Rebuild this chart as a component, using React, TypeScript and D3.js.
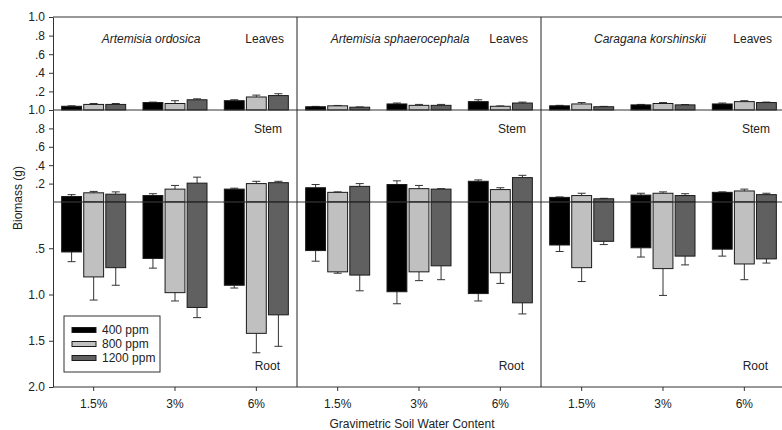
import React, { useEffect, useRef } from 'react';
import * as d3 from 'd3';

// categories
const species = ['Artemisia ordosica', 'Artemisia sphaerocephala', 'Caragana korshinskii'];
const waterLevels = ['1.5%', '3%', '6%'];
const treatments = ['400 ppm', '800 ppm', '1200 ppm'];
const treatmentColors = ['#000000', '#c0c0c0', '#606060'];

// means and SE, indexed [species][water level][treatment]
const leavesMean = [
  [[0.04, 0.06, 0.06], [0.08, 0.07, 0.11], [0.10, 0.14, 0.155]],
  [[0.035, 0.045, 0.03], [0.065, 0.05, 0.05], [0.09, 0.04, 0.075]],
  [[0.045, 0.065, 0.035], [0.055, 0.07, 0.055], [0.065, 0.09, 0.08]],
];
const leavesErr = [
  [[0.005, 0.01, 0.01], [0.005, 0.03, 0.01], [0.01, 0.02, 0.02]],
  [[0.004, 0.004, 0.003], [0.01, 0.01, 0.01], [0.02, 0.004, 0.01]],
  [[0.005, 0.015, 0.004], [0.005, 0.01, 0.004], [0.01, 0.01, 0.005]],
];
const stemMean = [
  [[0.06, 0.10, 0.085], [0.07, 0.14, 0.205], [0.14, 0.20, 0.21]],
  [[0.155, 0.105, 0.17], [0.19, 0.145, 0.14], [0.225, 0.135, 0.265]],
  [[0.05, 0.07, 0.035], [0.075, 0.095, 0.07], [0.105, 0.12, 0.08]],
];
const stemErr = [
  [[0.02, 0.015, 0.025], [0.02, 0.04, 0.065], [0.01, 0.025, 0.015]],
  [[0.035, 0.005, 0.03], [0.04, 0.035, 0.005], [0.015, 0.02, 0.025]],
  [[0.005, 0.025, 0.005], [0.02, 0.015, 0.02], [0.005, 0.02, 0.015]],
];
const rootMean = [
  [[0.54, 0.81, 0.71], [0.61, 0.98, 1.14], [0.90, 1.42, 1.22]],
  [[0.525, 0.755, 0.79], [0.97, 0.755, 0.69], [0.99, 0.765, 1.09]],
  [[0.465, 0.71, 0.425], [0.495, 0.72, 0.585], [0.51, 0.67, 0.615]],
];
const rootErr = [
  [[0.105, 0.25, 0.19], [0.105, 0.09, 0.11], [0.03, 0.21, 0.34]],
  [[0.115, 0.015, 0.17], [0.13, 0.095, 0.15], [0.08, 0.115, 0.12]],
  [[0.07, 0.15, 0.035], [0.10, 0.29, 0.095], [0.075, 0.17, 0.045]],
];

// tick labels
const leavesTicks = [0.2, 0.4, 0.6, 0.8, 1.0];
const stemTicks = [0.2, 0.4, 0.6, 0.8, 1.0];
const rootTicks = [0.5, 1.0, 1.5, 2.0];

const FONT = '"Liberation Sans", Arial, sans-serif';
const FS = 12;

const App = () => {
  const ref = useRef<HTMLDivElement>(null);

  useEffect(() => {
    const W = 782, H = 430;
    const left = 53, panelW = 244;
    const yTop = 17, yLeaf0 = 110, yBase = 202, yBottom = 387;

    d3.select(ref.current).select('svg').remove();
    const svg = d3.select(ref.current)
      .append('svg')
      .attr('width', W)
      .attr('height', H)
      .style('position', 'absolute')
      .style('left', 0)
      .style('top', 0)
      .style('font-family', FONT);

    const leavesY = d3.scaleLinear().domain([0, 1]).range([yLeaf0, yTop]);
    const stemY = d3.scaleLinear().domain([0, 1]).range([yBase, yLeaf0]);
    const rootY = d3.scaleLinear().domain([0, 2]).range([yBase, yBottom]);

    const panelX = d3.scaleBand().domain(species).range([left, left + panelW * 3]);
    const titleOffsets = [-24, -19, -13];

    const fmt = (d: number) => d3.format('.1f')(d).replace(/^0/, '');

    species.forEach((sp, si) => {
      const px = panelX(sp)!;
      const x0 = d3.scaleBand().domain(waterLevels).range([px, px + panelW]);
      const g = svg.append('g');

      waterLevels.forEach((lv, li) => {
        const c = x0(lv)! + x0.bandwidth() / 2;
        const x1 = d3.scaleBand().domain(treatments).range([c - 32, c + 32]).paddingInner(0.1);
        treatments.forEach((tr, ti) => {
          const bx = x1(tr)!;
          const bw = x1.bandwidth();
          const mid = bx + bw / 2;
          const color = treatmentColors[ti];

          const drawBar = (y0: number, y1: number) => {
            g.append('rect')
              .attr('x', bx).attr('y', Math.min(y0, y1))
              .attr('width', bw).attr('height', Math.abs(y1 - y0))
              .attr('fill', color).attr('stroke', '#1a1a1a').attr('stroke-width', 1);
          };
          const drawErr = (ya: number, yb: number) => {
            g.append('line').attr('x1', mid).attr('x2', mid).attr('y1', ya).attr('y2', yb)
              .attr('stroke', '#333').attr('stroke-width', 1);
            g.append('line').attr('x1', mid - 4).attr('x2', mid + 4).attr('y1', yb).attr('y2', yb)
              .attr('stroke', '#333').attr('stroke-width', 1);
          };

          // leaves
          const lm = leavesMean[si][li][ti], le = leavesErr[si][li][ti];
          drawErr(leavesY(lm), leavesY(lm + le));
          drawBar(leavesY(0), leavesY(lm));
          // stem
          const sm = stemMean[si][li][ti], se = stemErr[si][li][ti];
          drawErr(stemY(sm), stemY(sm + se));
          drawBar(stemY(0), stemY(sm));
          // root
          const rm = rootMean[si][li][ti], re = rootErr[si][li][ti];
          drawErr(rootY(rm), rootY(rm + re));
          drawBar(rootY(0), rootY(rm));
        });
      });

      // x axis
      const xa = svg.append('g')
        .attr('transform', `translate(0,${yBottom})`)
        .call(d3.axisBottom(x0).tickSize(4).tickSizeOuter(0).tickPadding(8));
      xa.select('.domain').remove();
      xa.selectAll('text').attr('font-size', FS).attr('font-family', FONT).attr('fill', '#222');
      xa.selectAll('line').attr('stroke', '#333');

      const cx = px + panelW / 2;
      svg.append('text').attr('x', cx + titleOffsets[si]).attr('y', 43)
        .attr('text-anchor', 'middle').attr('font-size', FS).attr('font-style', 'italic')
        .attr('fill', '#222').text(sp);
      const rx = Math.min(px + panelW - 13, W - 8);
      svg.append('text').attr('x', rx).attr('y', 43).attr('text-anchor', 'end')
        .attr('font-size', FS).attr('fill', '#222').text('Leaves');
      svg.append('text').attr('x', rx - 2).attr('y', 133).attr('text-anchor', 'end')
        .attr('font-size', FS).attr('fill', '#222').text('Stem');
      svg.append('text').attr('x', rx - 4).attr('y', 370).attr('text-anchor', 'end')
        .attr('font-size', FS).attr('fill', '#222').text('Root');
    });

    // frame lines
    const hLines = [yTop, yLeaf0, yBase, yBottom];
    hLines.forEach(y => {
      svg.append('line').attr('x1', left).attr('x2', W).attr('y1', y).attr('y2', y)
        .attr('stroke', '#333').attr('stroke-width', 1);
    });
    [left + panelW, left + panelW * 2].forEach(x => {
      svg.append('line').attr('x1', x).attr('x2', x).attr('y1', yTop).attr('y2', yBottom)
        .attr('stroke', '#222').attr('stroke-width', 1);
    });

    // y axes
    const styleAxis = (sel: any) => {
      sel.selectAll('text').attr('font-size', FS).attr('font-family', FONT).attr('fill', '#222');
      sel.selectAll('line').attr('stroke', '#333');
      sel.select('.domain').attr('stroke', '#333');
    };
    svg.append('g').attr('transform', `translate(${left},0)`)
      .call(d3.axisLeft(leavesY).tickValues(leavesTicks).tickFormat(fmt as any).tickSize(4).tickSizeOuter(0).tickPadding(4))
      .call(styleAxis);
    svg.append('g').attr('transform', `translate(${left},0)`)
      .call(d3.axisLeft(stemY).tickValues(stemTicks).tickFormat(fmt as any).tickSize(4).tickSizeOuter(0).tickPadding(4))
      .call(styleAxis);
    svg.append('g').attr('transform', `translate(${left},0)`)
      .call(d3.axisLeft(rootY).tickValues(rootTicks).tickFormat(fmt as any).tickSize(4).tickSizeOuter(0).tickPadding(4))
      .call(styleAxis);

    // axis titles
    svg.append('text').attr('transform', `translate(22,${(yTop + yBottom) / 2 - 4}) rotate(-90)`)
      .attr('text-anchor', 'middle').attr('font-size', FS).attr('fill', '#222').text('Biomass (g)');
    svg.append('text').attr('x', 412).attr('y', 428).attr('text-anchor', 'middle')
      .attr('font-size', FS).attr('fill', '#222').text('Gravimetric Soil Water Content');

    // legend
    const lg = svg.append('g').attr('transform', 'translate(64,316)');
    lg.append('rect').attr('width', 96).attr('height', 56).attr('fill', '#fff')
      .attr('stroke', '#333').attr('stroke-width', 1);
    treatments.forEach((tr, i) => {
      const cy = 14 + i * 14;
      lg.append('rect').attr('x', 8).attr('y', cy - 2.5).attr('width', 24).attr('height', 5)
        .attr('fill', treatmentColors[i]).attr('stroke', '#1a1a1a').attr('stroke-width', 1);
      lg.append('text').attr('x', 38).attr('y', cy + 4).attr('font-size', FS).attr('fill', '#222').text(tr);
    });
  }, []);

  return <div ref={ref}></div>;
};

export default App;
